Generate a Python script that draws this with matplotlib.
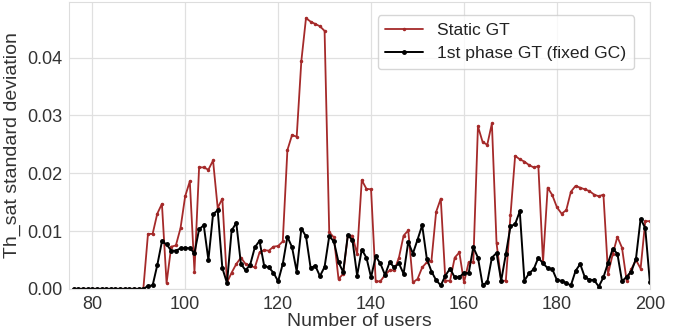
import numpy as np
import matplotlib
matplotlib.use("Agg")
import matplotlib.pyplot as plt
import seaborn as sns

users = list(range(76, 201))

static_gt_nonzero = [  # x = 92 .. 200
    0.0095, 0.0095, 0.0130, 0.0147, 0.0010, 0.0073, 0.0075, 0.0105, 0.0160, 0.0186,   # 92-101
    0.0030, 0.0210, 0.0210, 0.0206, 0.0222, 0.0140, 0.0156, 0.0011, 0.0028, 0.0043,   # 102-111
    0.0054, 0.0043, 0.0040, 0.0037, 0.0063, 0.0067, 0.0066, 0.0073, 0.0074, 0.0082,   # 112-121
    0.0240, 0.0266, 0.0263, 0.0394, 0.0468, 0.0462, 0.0458, 0.0454, 0.0446, 0.0098,   # 122-131
    0.0089, 0.0017, 0.0026, 0.0092, 0.0092, 0.0060, 0.0188, 0.0173, 0.0172, 0.0013,   # 132-141
    0.0013, 0.0024, 0.0032, 0.0032, 0.0054, 0.0092, 0.0101, 0.0011, 0.0017, 0.0037,   # 142-151
    0.0046, 0.0049, 0.0133, 0.0156, 0.0014, 0.0014, 0.0054, 0.0063, 0.0011, 0.0046,   # 152-161
    0.0046, 0.0281, 0.0254, 0.0249, 0.0286, 0.0079, 0.0014, 0.0014, 0.0127, 0.0230,   # 162-171
    0.0224, 0.0220, 0.0214, 0.0210, 0.0212, 0.0046, 0.0175, 0.0162, 0.0141, 0.0130,   # 172-181
    0.0136, 0.0168, 0.0178, 0.0175, 0.0172, 0.0169, 0.0163, 0.0160, 0.0163, 0.0026,   # 182-191
    0.0060, 0.0090, 0.0071, 0.0014, 0.0034, 0.0050, 0.0035, 0.0117, 0.0117,           # 192-200
]

first_phase_nonzero = [  # x = 92 .. 200
    0.0005, 0.0006, 0.0041, 0.0082, 0.0077, 0.0066, 0.0066, 0.0070, 0.0071, 0.0070,   # 92-101
    0.0062, 0.0103, 0.0110, 0.0050, 0.0129, 0.0136, 0.0036, 0.0010, 0.0101, 0.0114,   # 102-111
    0.0043, 0.0032, 0.0042, 0.0072, 0.0083, 0.0040, 0.0037, 0.0028, 0.0013, 0.0043,   # 112-121
    0.0090, 0.0072, 0.0030, 0.0104, 0.0091, 0.0036, 0.0040, 0.0022, 0.0038, 0.0091,   # 122-131
    0.0082, 0.0046, 0.0029, 0.0093, 0.0084, 0.0023, 0.0068, 0.0054, 0.0020, 0.0056,   # 132-141
    0.0044, 0.0024, 0.0046, 0.0037, 0.0044, 0.0026, 0.0081, 0.0061, 0.0085, 0.0110,   # 142-151
    0.0052, 0.0030, 0.0015, 0.0006, 0.0023, 0.0035, 0.0020, 0.0020, 0.0028, 0.0027,   # 152-161
    0.0072, 0.0054, 0.0007, 0.0011, 0.0054, 0.0062, 0.0014, 0.0060, 0.0108, 0.0112,   # 162-171
    0.0134, 0.0014, 0.0027, 0.0034, 0.0054, 0.0044, 0.0036, 0.0034, 0.0015, 0.0014,   # 172-181
    0.0010, 0.0006, 0.0031, 0.0043, 0.0020, 0.0016, 0.0015, 0.0004, 0.0020, 0.0045,   # 182-191
    0.0069, 0.0061, 0.0013, 0.0021, 0.0030, 0.0052, 0.0121, 0.0105, 0.0011,           # 192-200
]

static_gt = [0.0] * 16 + static_gt_nonzero
first_phase = [0.0] * 16 + first_phase_nonzero

sns.set_style("whitegrid")
plt.rcParams["font.family"] = ["Liberation Sans", "DejaVu Sans"]

fig = plt.figure(figsize=(6.87, 3.29), dpi=100)
ax = fig.add_axes([0.1004, 0.122, 0.8456, 0.872])

ax.plot(users, static_gt, color="#a52a2a", lw=1.3, marker=".", ms=3,
        label="Static GT")
ax.plot(users, first_phase, color="black", lw=1.4, marker=".", ms=5,
        label="1st phase GT (fixed GC)")

ax.set_xlim(75, 200)
ax.set_ylim(0, 0.0496)
ax.set_xticks([80, 100, 120, 140, 160, 180, 200])
ax.set_yticks([0.0, 0.01, 0.02, 0.03, 0.04])
ax.yaxis.set_major_formatter(matplotlib.ticker.FormatStrFormatter("%.2f"))
ax.tick_params(labelsize=13, pad=1.5, colors="#333333")
for lab in ax.get_xticklabels() + ax.get_yticklabels():
    lab.set_color("#333333")
ax.set_xlabel("Number of users", fontsize=14, color="#333333", labelpad=0)
ax.set_ylabel("Th_sat standard deviation", fontsize=14, color="#333333", labelpad=4)
ax.grid(color="#e0e0e0", lw=0.9)
for s in ax.spines.values():
    s.set_color("#dddddd")

leg = ax.legend(loc="upper right", fontsize=12.6, frameon=True,
                bbox_to_anchor=(0.988, 0.985), borderpad=0.45,
                labelspacing=0.45, handlelength=2.15)
for t in leg.get_texts():
    t.set_color("#222222")

fig.savefig("out.png", dpi=100)
